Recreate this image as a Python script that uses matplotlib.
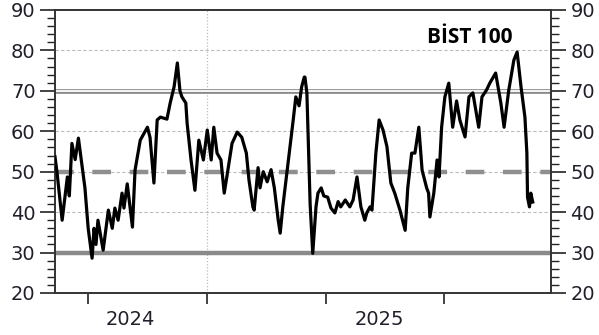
import numpy as np
import pandas as pd
import matplotlib.pyplot as plt
from matplotlib.ticker import MultipleLocator, FixedLocator
import matplotlib.dates as mdates

# RSI values (days counted from 2024-01-01)
days = [-51, -48, -40, -32, -29, -25, -20, -15, -5, 0, 6, 9, 12, 15, 23, 31, 37, 41, 46,
        52, 55, 60, 68, 72, 80, 91, 95, 101, 106, 111, 121, 126, 132, 137, 141, 144, 150,
        152, 158, 164, 170, 177, 183, 189, 193, 198, 204, 209, 213, 221, 229, 236, 243,
        247, 253, 255, 261, 264, 269, 275, 281, 286, 292, 295, 299, 304, 309, 315, 319,
        324, 328, 332, 333, 336, 341, 345, 350, 353, 358, 362, 368, 373, 379, 384, 388,
        395, 402, 407, 413, 419, 425, 428, 433, 436, 442, 447, 453, 459, 465, 471, 479,
        487, 491, 497, 502, 508, 513, 520, 523, 525, 531, 536, 539, 543, 548, 554, 560,
        566, 571, 579, 585, 591, 600, 605, 612, 617, 626, 634, 639, 646, 654, 659, 665,
        671, 674, 675, 678, 680, 683]
rsi = [53.7, 50, 38, 48.7, 44, 57, 53, 58.3, 46, 36, 28.6, 36, 32, 38, 30.6, 40.5, 36, 41, 38,
       44.7, 41, 47, 36.3, 50.4, 57.8, 61, 58.5, 47.2, 62.8, 63.5, 63, 67, 71, 76.9, 70, 68.5, 67,
       62, 52.9, 45.4, 57.8, 52.9, 60.3, 52.9, 61, 54.6, 52.9, 44.7, 48.7, 57, 59.8, 58.5, 54.6,
       48, 41.3, 40.5, 51, 46, 50, 47.5, 50.5, 46, 38, 34.8, 41.3, 48, 54.6, 62.8, 68.5,
       66.3, 71, 73.4, 73.4, 69.5, 42, 29.8, 41.3, 44.7, 46, 44, 43.7, 41, 39.8, 42.6, 41.3,
       43, 41.3, 43, 48.7, 41.3, 38, 39.8, 41.3, 40.5, 54.6, 62.8, 60.3, 56.2, 47.2, 44.7, 40.5,
       35.5, 46, 54.6, 54.6, 61, 50.4, 46, 44.7, 38.8, 44.7, 52.9, 48.7, 61, 68.5, 71.9, 61,
       67.5, 62.8, 58.6, 68.5, 69.5, 61, 68.5, 70.2, 71.9, 74.4, 67, 61, 70, 77.6, 79.6, 71,
       63.5, 54.6, 43.7, 41.3, 44.7, 42.5]

start = pd.Timestamp('2024-01-01')
dates = start + pd.to_timedelta(days, unit='D')

tick_dates = pd.to_datetime(['2024-01-01', '2024-07-01', '2025-01-01', '2025-07-01'])
year_labels = ['2024', '2025']
year_pos = pd.to_datetime(['2024-03-05', '2025-03-23'])

txt = '#20202a'
fig = plt.figure(figsize=(5.99, 3.35), dpi=100)
ax = fig.add_axes([0.0918, 0.1254, 0.828, 0.8448])

# guide lines
for v in [40, 50, 60, 80]:
    ax.axhline(v, color='#bdbdbd', lw=0.8, dashes=(3, 2), zorder=1)
ax.axvline(pd.Timestamp('2024-07-01'), color='#bdbdbd', lw=0.9, ls=(0, (1, 1.5)), zorder=1)
ax.axhline(30, color='#8a8a8a', lw=3.2, zorder=2)
ax.axhline(50, color='#8f8f8f', lw=3.2, dashes=(4.2, 4.2), zorder=2)
ax.axhline(70, color='#8a8a8a', lw=3.4, zorder=2)
ax.axhline(70, color='white', lw=1.3, zorder=2)

ax.plot(dates, rsi, color='black', lw=2.3, solid_joinstyle='round', zorder=3)

ax.set_ylim(20, 90)
ax.set_xlim(start + pd.Timedelta(days=-51), start + pd.Timedelta(days=711))

ax.yaxis.set_major_locator(MultipleLocator(10))
ax.yaxis.set_minor_locator(MultipleLocator(2))
ax.tick_params(axis='y', which='both', left=True, right=True, labelleft=True, labelright=True,
               direction='out', labelsize=14, labelcolor=txt, color='#222222')
ax.tick_params(axis='y', which='major', length=11, width=1.2, pad=3)
ax.tick_params(axis='y', which='minor', length=6, width=1)

ax.xaxis.set_major_locator(FixedLocator(mdates.date2num(tick_dates)))
ax.xaxis.set_major_formatter(plt.NullFormatter())
ax.xaxis.set_minor_locator(FixedLocator(mdates.date2num(year_pos)))
ax.xaxis.set_minor_formatter(plt.FixedFormatter(year_labels))
ax.tick_params(axis='x', which='major', length=8, width=1.2, color='#222222')
ax.tick_params(axis='x', which='minor', length=0, labelsize=14, labelcolor=txt, pad=12)

for s in ax.spines.values():
    s.set_color('#333333')
    s.set_linewidth(1.4)

ax.text(start + pd.Timedelta(days=652), 83.3, 'BİST 100', ha='right', va='center',
        fontsize=15, fontweight='bold', family='Open Sans', color='black')

fig.savefig('out.png', dpi=100)
